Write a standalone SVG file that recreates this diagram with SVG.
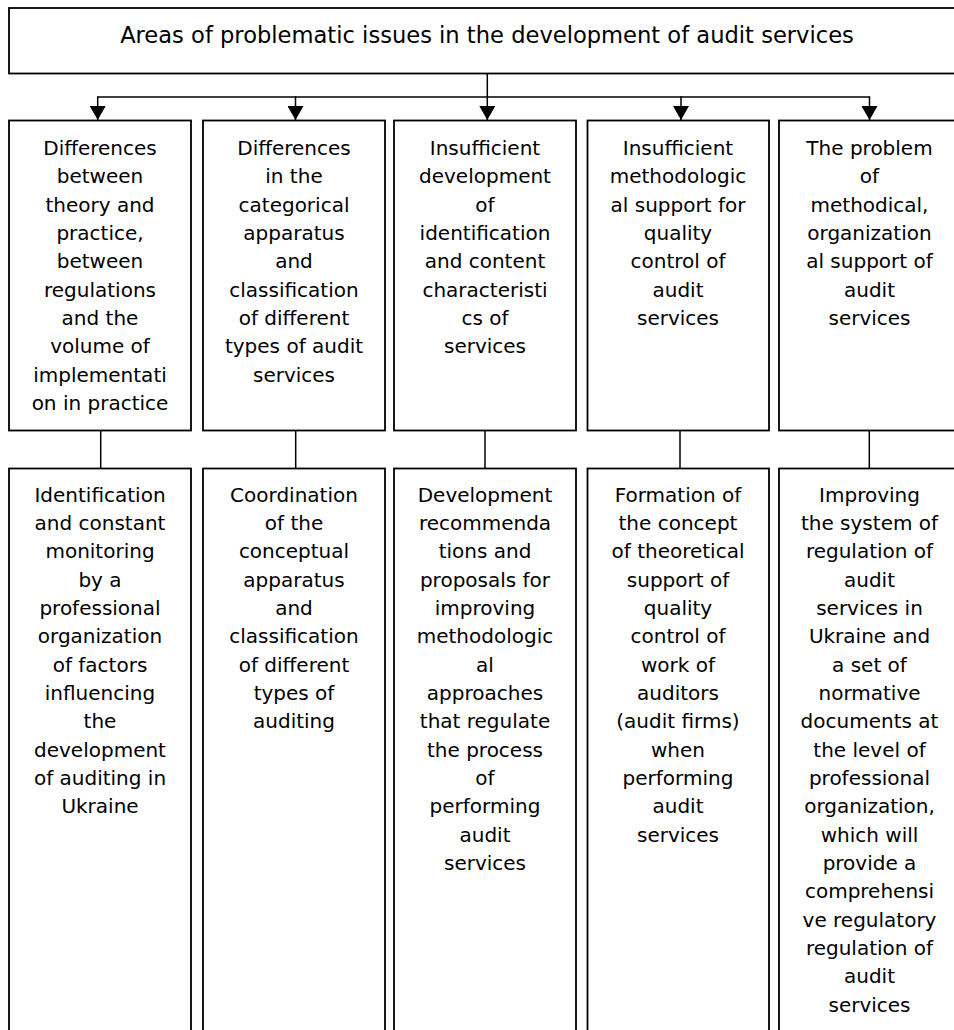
<svg xmlns="http://www.w3.org/2000/svg" width="954" height="1030" viewBox="0 0 954 1030">
<style>
.box{fill:#fff;stroke:#000;stroke-width:1.8}
.ln{fill:none;stroke:#000;stroke-width:1.5}
.t{font-family:"DejaVu Sans",sans-serif;font-size:20px;fill:#000;text-anchor:middle}
.title{font-family:"DejaVu Sans",sans-serif;font-size:22.6px;fill:#000;text-anchor:middle}
</style>
<defs>
<marker id="ah" viewBox="0 0 14 16" markerWidth="14" markerHeight="16" refX="14" refY="8" orient="auto" markerUnits="userSpaceOnUse">
<path d="M0,0 L14,8 L0,16 z" fill="#000"/>
</marker>
</defs>
<rect width="954" height="1030" fill="#fff"/>
<g id="connectors">
<line class="ln" x1="487.3" y1="73.5" x2="487.3" y2="97"/>
<line class="ln" x1="97.7" y1="97" x2="869.5" y2="97"/>
<line class="ln" x1="97.7" y1="96.3" x2="97.7" y2="120" marker-end="url(#ah)"/>
<line class="ln" x1="295.5" y1="96.3" x2="295.5" y2="120" marker-end="url(#ah)"/>
<line class="ln" x1="487.3" y1="96.3" x2="487.3" y2="120" marker-end="url(#ah)"/>
<line class="ln" x1="681" y1="96.3" x2="681" y2="120" marker-end="url(#ah)"/>
<line class="ln" x1="869.5" y1="96.3" x2="869.5" y2="120" marker-end="url(#ah)"/>
<line class="ln" x1="100.7" y1="430.5" x2="100.7" y2="468.5"/>
<line class="ln" x1="295.7" y1="430.5" x2="295.7" y2="468.5"/>
<line class="ln" x1="485" y1="430.5" x2="485" y2="468.5"/>
<line class="ln" x1="680" y1="430.5" x2="680" y2="468.5"/>
<line class="ln" x1="869.3" y1="430.5" x2="869.3" y2="468.5"/>
</g>
<g id="title">
<rect class="box" x="9" y="8" width="960" height="65.5"/>
<text class="title" x="487" y="43.3">Areas of problematic issues in the development of audit services</text>
</g>
<g id="p1">
<rect class="box" x="9" y="120.5" width="182" height="310"/>
<text class="t" x="100"><tspan x="100" y="155">Differences</tspan><tspan x="100" y="183.3">between</tspan><tspan x="100" y="211.7">theory and</tspan><tspan x="100" y="240">practice,</tspan><tspan x="100" y="268.3">between</tspan><tspan x="100" y="296.7">regulations</tspan><tspan x="100" y="325">and the</tspan><tspan x="100" y="353.3">volume of</tspan><tspan x="100" y="381.7">implementati</tspan><tspan x="100" y="410">on in practice</tspan></text>
</g>
<g id="p2">
<rect class="box" x="203" y="120.5" width="182" height="310"/>
<text class="t" x="294"><tspan x="294" y="155">Differences</tspan><tspan x="294" y="183.3">in the</tspan><tspan x="294" y="211.7">categorical</tspan><tspan x="294" y="240">apparatus</tspan><tspan x="294" y="268.3">and</tspan><tspan x="294" y="296.7">classification</tspan><tspan x="294" y="325">of different</tspan><tspan x="294" y="353.3">types of audit</tspan><tspan x="294" y="381.7">services</tspan></text>
</g>
<g id="p3">
<rect class="box" x="394" y="120.5" width="182" height="310"/>
<text class="t" x="485"><tspan x="485" y="155">Insufficient</tspan><tspan x="485" y="183.3">development</tspan><tspan x="485" y="211.7">of</tspan><tspan x="485" y="240">identification</tspan><tspan x="485" y="268.3">and content</tspan><tspan x="485" y="296.7">characteristi</tspan><tspan x="485" y="325">cs of</tspan><tspan x="485" y="353.3">services</tspan></text>
</g>
<g id="p4">
<rect class="box" x="587.5" y="120.5" width="181.5" height="310"/>
<text class="t" x="678"><tspan x="678" y="155">Insufficient</tspan><tspan x="678" y="183.3">methodologic</tspan><tspan x="678" y="211.7">al support for</tspan><tspan x="678" y="240">quality</tspan><tspan x="678" y="268.3">control of</tspan><tspan x="678" y="296.7">audit</tspan><tspan x="678" y="325">services</tspan></text>
</g>
<g id="p5">
<rect class="box" x="779" y="120.5" width="190" height="310"/>
<text class="t" x="869.5"><tspan x="869.5" y="155">The problem</tspan><tspan x="869.5" y="183.3">of</tspan><tspan x="869.5" y="211.7">methodical,</tspan><tspan x="869.5" y="240">organization</tspan><tspan x="869.5" y="268.3">al support of</tspan><tspan x="869.5" y="296.7">audit</tspan><tspan x="869.5" y="325">services</tspan></text>
</g>
<g id="s1">
<rect class="box" x="9" y="468.5" width="182" height="600"/>
<text class="t" x="100"><tspan x="100" y="501.7">Identification</tspan><tspan x="100" y="530">and constant</tspan><tspan x="100" y="558.3">monitoring</tspan><tspan x="100" y="586.7">by a</tspan><tspan x="100" y="615">professional</tspan><tspan x="100" y="643.3">organization</tspan><tspan x="100" y="671.7">of factors</tspan><tspan x="100" y="700">influencing</tspan><tspan x="100" y="728.3">the</tspan><tspan x="100" y="756.7">development</tspan><tspan x="100" y="785">of auditing in</tspan><tspan x="100" y="813.3">Ukraine</tspan></text>
</g>
<g id="s2">
<rect class="box" x="203" y="468.5" width="182" height="600"/>
<text class="t" x="294"><tspan x="294" y="501.7">Coordination</tspan><tspan x="294" y="530">of the</tspan><tspan x="294" y="558.3">conceptual</tspan><tspan x="294" y="586.7">apparatus</tspan><tspan x="294" y="615">and</tspan><tspan x="294" y="643.3">classification</tspan><tspan x="294" y="671.7">of different</tspan><tspan x="294" y="700">types of</tspan><tspan x="294" y="728.3">auditing</tspan></text>
</g>
<g id="s3">
<rect class="box" x="394" y="468.5" width="182" height="600"/>
<text class="t" x="485"><tspan x="485" y="501.7">Development</tspan><tspan x="485" y="530">recommenda</tspan><tspan x="485" y="558.3">tions and</tspan><tspan x="485" y="586.7">proposals for</tspan><tspan x="485" y="615">improving</tspan><tspan x="485" y="643.3">methodologic</tspan><tspan x="485" y="671.7">al</tspan><tspan x="485" y="700">approaches</tspan><tspan x="485" y="728.3">that regulate</tspan><tspan x="485" y="756.7">the process</tspan><tspan x="485" y="785">of</tspan><tspan x="485" y="813.3">performing</tspan><tspan x="485" y="841.7">audit</tspan><tspan x="485" y="870">services</tspan></text>
</g>
<g id="s4">
<rect class="box" x="587.5" y="468.5" width="181.5" height="600"/>
<text class="t" x="678"><tspan x="678" y="501.7">Formation of</tspan><tspan x="678" y="530">the concept</tspan><tspan x="678" y="558.3">of theoretical</tspan><tspan x="678" y="586.7">support of</tspan><tspan x="678" y="615">quality</tspan><tspan x="678" y="643.3">control of</tspan><tspan x="678" y="671.7">work of</tspan><tspan x="678" y="700">auditors</tspan><tspan x="678" y="728.3">(audit firms)</tspan><tspan x="678" y="756.7">when</tspan><tspan x="678" y="785">performing</tspan><tspan x="678" y="813.3">audit</tspan><tspan x="678" y="841.7">services</tspan></text>
</g>
<g id="s5">
<rect class="box" x="779" y="468.5" width="190" height="600"/>
<text class="t" x="869.5"><tspan x="869.5" y="501.7">Improving</tspan><tspan x="869.5" y="530">the system of</tspan><tspan x="869.5" y="558.3">regulation of</tspan><tspan x="869.5" y="586.7">audit</tspan><tspan x="869.5" y="615">services in</tspan><tspan x="869.5" y="643.3">Ukraine and</tspan><tspan x="869.5" y="671.7">a set of</tspan><tspan x="869.5" y="700">normative</tspan><tspan x="869.5" y="728.3">documents at</tspan><tspan x="869.5" y="756.7">the level of</tspan><tspan x="869.5" y="785">professional</tspan><tspan x="869.5" y="813.3">organization,</tspan><tspan x="869.5" y="841.7">which will</tspan><tspan x="869.5" y="870">provide a</tspan><tspan x="869.5" y="898.3">comprehensi</tspan><tspan x="869.5" y="926.7">ve regulatory</tspan><tspan x="869.5" y="955">regulation of</tspan><tspan x="869.5" y="983.3">audit</tspan><tspan x="869.5" y="1011.7">services</tspan></text>
</g>
</svg>
